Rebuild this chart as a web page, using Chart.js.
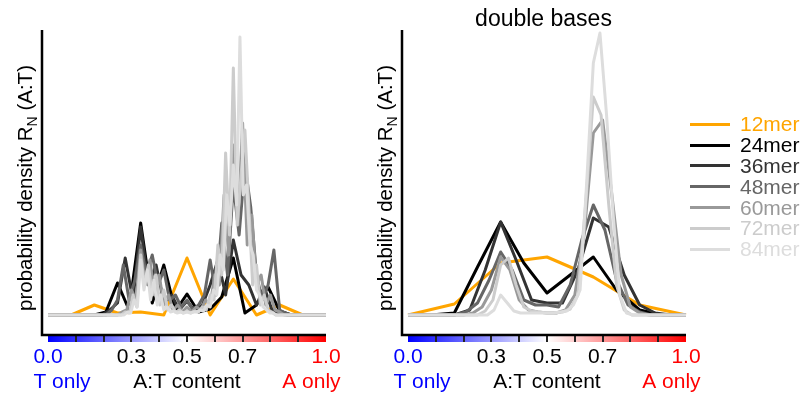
<!DOCTYPE html>
<html>
<head>
<meta charset="utf-8">
<script src="https://cdn.jsdelivr.net/npm/chart.js@4.4.0/dist/chart.umd.min.js"></script>
<style>
    body { margin: 0; width: 800px; height: 394px; overflow: hidden; position: relative; background: #fff; font-family: "Liberation Sans", Arial, sans-serif; }
    #grafica_simples { position: absolute; left: 0; top: 0; }
    #grafica_dobles { position: absolute; left: 360px; top: 0; }
    #leyenda { position: absolute; left: 690px; top: 114px; font-size: 21px; white-space: nowrap; }
    .fila { display: flex; align-items: center; height: 20.8px; }
    .linea { display: inline-block; width: 40px; height: 3px; margin-right: 10px; }
</style>
</head>
<body>
<canvas id="grafica_simples" width="360" height="394"></canvas>
<canvas id="grafica_dobles" width="360" height="394"></canvas>
<div id="leyenda"></div>

<script>
const etiquetasSeries = ['12mer', '24mer', '36mer', '48mer', '60mer', '72mer', '84mer'];
const coloresSeries = ['#ffa500', '#000000', '#333333', '#666666', '#999999', '#cccccc', '#dddddd'];

const valoresMarcas = [0.0, 0.3, 0.5, 0.7, 1.0];
const textosMarcas = ['0.0', '0.3', '0.5', '0.7', '1.0'];
const coloresMarcas = ['#0000ff', '#000000', '#000000', '#000000', '#ff0000'];

// panel izquierdo: bases simples (un punto por cada k/N)
const simples12 = [0, 0, 10, 2, 3, 0, 57, 0, 36, 0, 10, 0, 0];
const simples24 = [0, 0, 0, 0, 0, 3, 32, 5, 92, 12, 50, 4, 21, 3, 6, 18, 57, 2, 10, 28, 4, 0, 0, 0, 0];
const simples36 = [0, 0, 0, 0, 0, 0, 0, 0,
    5, 12, 57, 15, 88, 30, 50, 12, 20, 5, 14, 4, 10, 30, 55, 20, 75, 40, 30, 10, 28, 5, 2,
    0, 0, 0, 0, 0, 0];
const simples48 = [0, 0, 0, 0, 0, 0, 0, 0, 0, 0, 0,
    5, 15, 50, 15, 35, 70, 40, 60, 30, 45, 15, 20, 8, 15, 5, 10, 20, 55, 20, 92, 40, 130, 80, 150, 108, 40, 15, 30, 65, 5, 2,
    0, 0, 0, 0, 0, 0, 0];
const simples60 = [0, 0, 0, 0, 0, 0, 0, 0, 0, 0, 0, 0, 0, 0, 0, 0,
    3, 5, 25, 15, 65, 30, 55, 20, 40, 10, 20, 5, 10, 3, 8, 3, 8, 5, 15, 10, 40, 30, 120, 60, 170, 90, 192, 70, 100, 30, 40, 10, 20, 5, 3,
    0, 0, 0, 0, 0, 0, 0, 0, 0, 0];
const simples72 = [0, 0, 0, 0, 0, 0, 0, 0, 0, 0, 0, 0, 0, 0, 0, 0, 0, 0, 0, 0,
    3, 2, 20, 8, 60, 30, 50, 20, 40, 10, 25, 5, 10, 3, 5, 2, 4, 2, 4, 3, 8, 5, 20, 15, 70, 40, 162, 80, 247, 90, 140, 185, 110, 30, 50, 10, 20, 5, 3,
    0, 0, 0, 0, 0, 0, 0, 0, 0, 0, 0, 0, 0, 0];
const simples84 = [0, 0, 0, 0, 0, 0, 0, 0, 0, 0, 0, 0, 0, 0, 0, 0, 0, 0, 0, 0, 0, 0, 0, 0,
    3, 2, 15, 8, 55, 25, 45, 15, 35, 10, 20, 5, 8, 3, 4, 2, 3, 2, 3, 2, 3, 3, 5, 4, 10, 8, 25, 20, 60, 45, 120, 90, 150, 110, 278, 120, 130, 70, 60, 25, 20, 8, 5, 2, 2,
    0, 0, 0, 0, 0, 0, 0, 0, 0, 0, 0, 0, 0, 0, 0, 0];

// panel derecho: bases dobles
const dobles12 = [0, 11, 52, 58, 38, 10, 0];
const dobles24 = [0, 0, 2, 48, 93, 52, 22, 40, 58, 25, 5, 0, 0];
const dobles36 = [0, 0, 0, 0, 5, 45, 93, 55, 15, 12, 12, 45, 97, 88, 40, 10, 2, 0, 0];
const dobles48 = [0, 0, 0, 0, 0, 3, 12, 35, 63, 45, 15, 10, 10, 8, 30, 75, 110, 85, 35, 10, 3, 0, 0, 0, 0];
const dobles60 = [0, 0, 0, 0, 0, 0, 0,
    2, 8, 25, 58, 45, 15, 5, 3, 2, 2, 5, 20, 80, 182, 195, 120, 40, 8, 2,
    0, 0, 0, 0, 0];
const dobles72 = [0, 0, 0, 0, 0, 0, 0, 0, 0, 0,
    4, 15, 50, 57, 30, 8, 4, 3, 2, 2, 3, 6, 20, 110, 218, 200, 110, 30, 5,
    0, 0, 0, 0, 0, 0, 0, 0];
const dobles84 = [0, 0, 0, 0, 0, 0, 0, 0, 0, 0, 0, 0, 0,
    5, 20, 12, 4, 2, 2, 2, 2, 2, 2, 3, 4, 10, 25, 133, 252, 282, 200, 100, 20, 2,
    0, 0, 0, 0, 0, 0, 0, 0, 0];

const fuente = '"Liberation Sans", Arial, sans-serif';

function puntos(valores) {
    return valores.map((valor, indice) => ({x: indice / (valores.length - 1), y: valor}));
}

function colorBwr(t) {
    let r, g, b;
    if (t < 0.5) {
        r = g = Math.round(255 * t / 0.5);
        b = 255;
    } else {
        r = 255;
        g = b = Math.round(255 * (1 - t) / 0.5);
    }
    return `rgb(${r},${g},${b})`;
}

const decoracion = {
    id: 'decoracion',
    afterDraw(chart, args, opciones) {
        const ctx = chart.ctx;
        const area = chart.chartArea;
        const ejeX = chart.scales.x;
        const x0 = ejeX.getPixelForValue(0);
        const x1 = ejeX.getPixelForValue(1);
        const base = area.bottom;

        ctx.save();

        // barra de color
        const degradado = ctx.createLinearGradient(x0, 0, x1, 0);
        for (let i = 0; i <= 10; i++) {
            degradado.addColorStop(i / 10, colorBwr(i / 10));
        }
        ctx.fillStyle = degradado;
        ctx.fillRect(x0, base, x1 - x0, 7);
        ctx.strokeStyle = '#222';
        ctx.lineWidth = 2;
        for (let i = 1; i < 10; i++) {
            const xi = Math.round(ejeX.getPixelForValue(i / 10));
            ctx.beginPath();
            ctx.moveTo(xi, base);
            ctx.lineTo(xi, base + 7);
            ctx.stroke();
        }

        // ejes
        ctx.strokeStyle = '#000';
        ctx.lineWidth = 2.5;
        ctx.beginPath();
        ctx.moveTo(area.left + 1, area.top);
        ctx.lineTo(area.left + 1, base);
        ctx.lineTo(x1, base);
        ctx.stroke();

        // marcas
        ctx.font = '21px ' + fuente;
        ctx.textBaseline = 'alphabetic';
        ctx.textAlign = 'center';
        valoresMarcas.forEach((valor, indice) => {
            ctx.fillStyle = coloresMarcas[indice];
            ctx.fillText(textosMarcas[indice], ejeX.getPixelForValue(valor), base + 28);
        });

        const mitadCero = ctx.measureText(textosMarcas[0]).width / 2;
        const mitadUno = ctx.measureText(textosMarcas[4]).width / 2;
        ctx.textAlign = 'left';
        ctx.fillStyle = '#0000ff';
        ctx.fillText('T only', x0 - mitadCero, base + 53);
        ctx.textAlign = 'center';
        ctx.fillStyle = '#000';
        ctx.fillText('A:T content', ejeX.getPixelForValue(0.5), base + 53);
        ctx.textAlign = 'right';
        ctx.fillStyle = '#ff0000';
        ctx.fillText('A only', x1 + mitadUno, base + 53);

        // titulo del eje y, con subindice
        ctx.translate(32, 188);
        ctx.rotate(-Math.PI / 2);
        ctx.fillStyle = '#000';
        ctx.textAlign = 'left';
        const partes = [
            {texto: 'probability density R', tam: 20.5, dy: 0},
            {texto: 'N', tam: 14, dy: 5},
            {texto: ' (A:T)', tam: 20.5, dy: 0}
        ];
        let total = 0;
        partes.forEach(p => {
            ctx.font = p.tam + 'px ' + fuente;
            p.ancho = ctx.measureText(p.texto).width;
            total += p.ancho;
        });
        let cursor = -total / 2;
        partes.forEach(p => {
            ctx.font = p.tam + 'px ' + fuente;
            ctx.fillText(p.texto, cursor, p.dy);
            cursor += p.ancho;
        });
        ctx.restore();

        if (opciones.titulo) {
            ctx.save();
            ctx.font = '23px ' + fuente;
            ctx.fillStyle = '#000';
            ctx.textAlign = 'center';
            ctx.fillText(opciones.titulo, (area.left + area.right) / 2, 26);
            ctx.restore();
        }
    }
};

function dibujarGrafica(lienzo, series, titulo) {
    const datasets = series.map((valores, indice) => ({
        label: etiquetasSeries[indice],
        data: puntos(valores),
        borderColor: coloresSeries[indice],
        borderWidth: 3,
        borderJoinStyle: 'round',
        pointRadius: 0,
        tension: 0,
        fill: false,
        clip: false,
        order: series.length - 1 - indice
    }));

    return new Chart(lienzo, {
        type: 'line',
        data: {datasets: datasets},
        options: {
            responsive: false,
            animation: false,
            layout: {padding: {left: 41, right: 34, top: 30, bottom: 59}},
            scales: {
                x: {type: 'linear', min: -7 / 278, max: 1, display: false},
                y: {min: -20, max: 285, display: false}
            },
            plugins: {
                legend: {display: false},
                tooltip: {enabled: false},
                decoracion: {titulo: titulo}
            }
        },
        plugins: [decoracion]
    });
}

function dibujarLeyenda() {
    const leyenda = document.getElementById('leyenda');
    etiquetasSeries.forEach((etiqueta, indice) => {
        const fila = document.createElement('div');
        fila.className = 'fila';
        fila.innerHTML = `<span class="linea" style="background:${coloresSeries[indice]}"></span>` +
            `<span style="color:${coloresSeries[indice]}">${etiqueta}</span>`;
        leyenda.appendChild(fila);
    });
}

document.addEventListener('DOMContentLoaded', () => {
    dibujarGrafica(document.getElementById('grafica_simples'),
        [simples12, simples24, simples36, simples48, simples60, simples72, simples84], '');
    dibujarGrafica(document.getElementById('grafica_dobles'),
        [dobles12, dobles24, dobles36, dobles48, dobles60, dobles72, dobles84], 'double bases');
    dibujarLeyenda();
});
</script>
</body>
</html>
